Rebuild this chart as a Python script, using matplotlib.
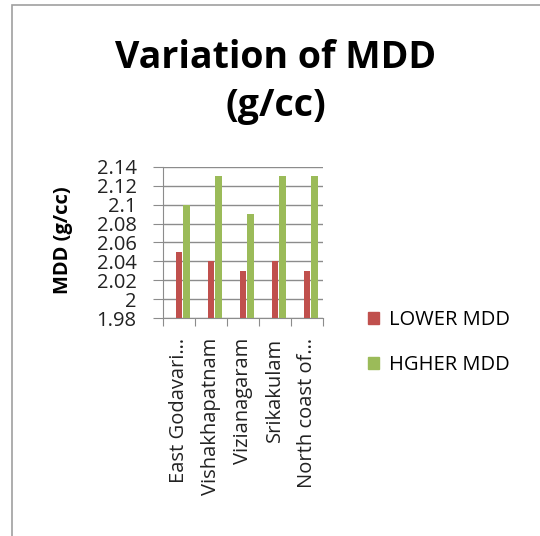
import matplotlib
matplotlib.use("Agg")
import matplotlib.pyplot as plt
from matplotlib.patches import Rectangle, Patch
import numpy as np

# data
districts = ["East Godavari…", "Vishakhapatnam", "Vizianagaram", "Srikakulam", "North coast of…"]
lower_mdd = [2.05, 2.04, 2.03, 2.04, 2.03]
higher_mdd = [2.10, 2.13, 2.09, 2.13, 2.13]
y_ticks = [1.98, 2.0, 2.02, 2.04, 2.06, 2.08, 2.1, 2.12, 2.14]
y_labels = ["1.98", "2", "2.02", "2.04", "2.06", "2.08", "2.1", "2.12", "2.14"]

RED = "#C0504D"
GREEN = "#9BBB59"
GRID = "#8C8C8C"

plt.rcParams["font.family"] = ["Open Sans", "DejaVu Sans"]

fig = plt.figure(figsize=(5.4, 5.36), dpi=100)
W, H = 540, 536

# chart area border (left and top visible)
fig.patches.append(Rectangle((12 / W, -0.05), 1.1, 1 - 5 / H + 0.05, transform=fig.transFigure,
                             fill=False, edgecolor="#A0A0A0", linewidth=1.2))

ax = fig.add_axes([163 / W, 1 - 318 / H, 160 / W, 151 / H])

x = np.arange(len(districts))
bw = 0.21
ax.bar(x, lower_mdd, width=bw, color=RED, zorder=3, label="LOWER MDD")
ax.bar(x + 0.23, higher_mdd, width=bw, color=GREEN, zorder=3, label="HGHER MDD")

ax.set_ylim(1.98, 2.14)
ax.set_xlim(-0.5, len(districts) - 0.5)
ax.set_yticks(y_ticks)
ax.set_yticklabels(y_labels)
ax.yaxis.grid(True, color=GRID, linewidth=1.0, zorder=0)

# ticks at category boundaries, labels at centres
ax.set_xticks(np.arange(len(districts) + 1) - 0.5)
ax.set_xticklabels([])
ax.set_xticks(x, minor=True)
ax.set_xticklabels(districts, minor=True, rotation=90, va="top", ha="center", fontsize=14.5,
                   color="#222222")
ax.tick_params(axis="x", which="minor", length=0, pad=14)
ax.tick_params(axis="x", which="major", length=6, color=GRID, direction="out")
ax.tick_params(axis="y", length=7, color=GRID, labelsize=14.5, pad=12, labelcolor="#222222")

for s in ["top", "right"]:
    ax.spines[s].set_visible(False)
for s in ["left", "bottom"]:
    ax.spines[s].set_color(GRID)

fig.text(63 / W, 1 - 240 / H, "MDD (g/cc)", rotation=90, ha="center", va="center",
         fontsize=14.5, fontweight="bold")

fig.text(276 / W, 1 - 58 / H, "Variation of MDD", ha="center", va="center",
         fontsize=27, fontweight="bold")
fig.text(276 / W, 1 - 106 / H, "(g/cc)", ha="center", va="center",
         fontsize=27, fontweight="bold")

handles = [Patch(color=RED), Patch(color=GREEN)]
fig.legend(handles, ["LOWER MDD", "HGHER MDD"], loc="upper left",
           bbox_to_anchor=(350 / W, 1 - 292 / H), frameon=False, fontsize=14.5,
           handlelength=0.55, handleheight=0.55, handletextpad=0.5, labelspacing=1.25)

fig.savefig("out.png", dpi=100)
